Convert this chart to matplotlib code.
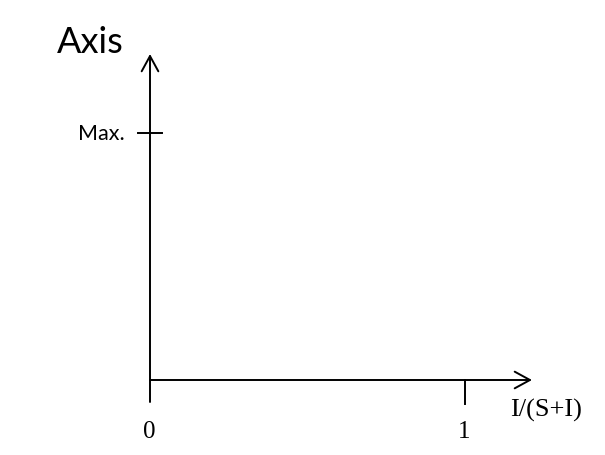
import matplotlib.pyplot as plt

# axis ticks and labels of the sketch
x_ticks = [0, 1]
x_tick_labels = ["0", "1"]
y_ticks = [1]
y_tick_labels = ["Max."]
x_label = "I/(S+I)"
y_label = "Axis"

W, H = 605, 456
fig = plt.figure(figsize=(W / 100, H / 100), dpi=100)
ax = fig.add_axes([0, 0, 1, 1])

# pixel layout: x=0 at px 150, x=1 at px 465; y=0 at px 381, y=1 at px 134
sx, sy = 315.0, 247.0
ax.set_xlim(-150 / sx, (W - 150) / sx)
ax.set_ylim(-(H - 381) / sy, 381 / sy)
ax.axis("off")

lw = 1.4
arrow = dict(arrowstyle="->,head_length=0.55,head_width=0.3", lw=lw,
             color="black", mutation_scale=20, shrinkA=0, shrinkB=0)

x_end = (532 - 150) / sx
y_end = (381 - 55) / sy
y_start = -(403 - 381) / sy

#axes with open arrow heads
ax.annotate("", xy=(x_end, 0), xytext=(0, 0), arrowprops=arrow)
ax.annotate("", xy=(0, y_end), xytext=(0, y_start), arrowprops=arrow)

#ticks
tick_down = 24 / sy
for t in x_ticks[1:]:
    ax.plot([t, t], [0, -tick_down], color="black", lw=lw)
tick_half = 12 / sx
for t in y_ticks:
    ax.plot([-tick_half, tick_half], [t, t], color="black", lw=lw)

serif = ["Liberation Serif", "DejaVu Serif"]
sans = ["Lato", "DejaVu Sans"]

for t, lab in zip(x_ticks, x_tick_labels):
    ax.text(t - 1 / sx, -(432 - 381) / sy, lab, ha="center", va="center",
            fontsize=18, family=serif)
for t, lab in zip(y_ticks, y_tick_labels):
    ax.text(-(150 - 125) / sx, t, lab, ha="right", va="center",
            fontsize=15.5, family=sans)

ax.text((546 - 150) / sx, -(410 - 381) / sy, x_label, ha="center", va="center",
        fontsize=19, family=serif)
ax.text((90 - 150) / sx, (381 - 42) / sy, y_label, ha="center", va="center",
        fontsize=26, family=sans)

fig.savefig("out.png", dpi=100)
